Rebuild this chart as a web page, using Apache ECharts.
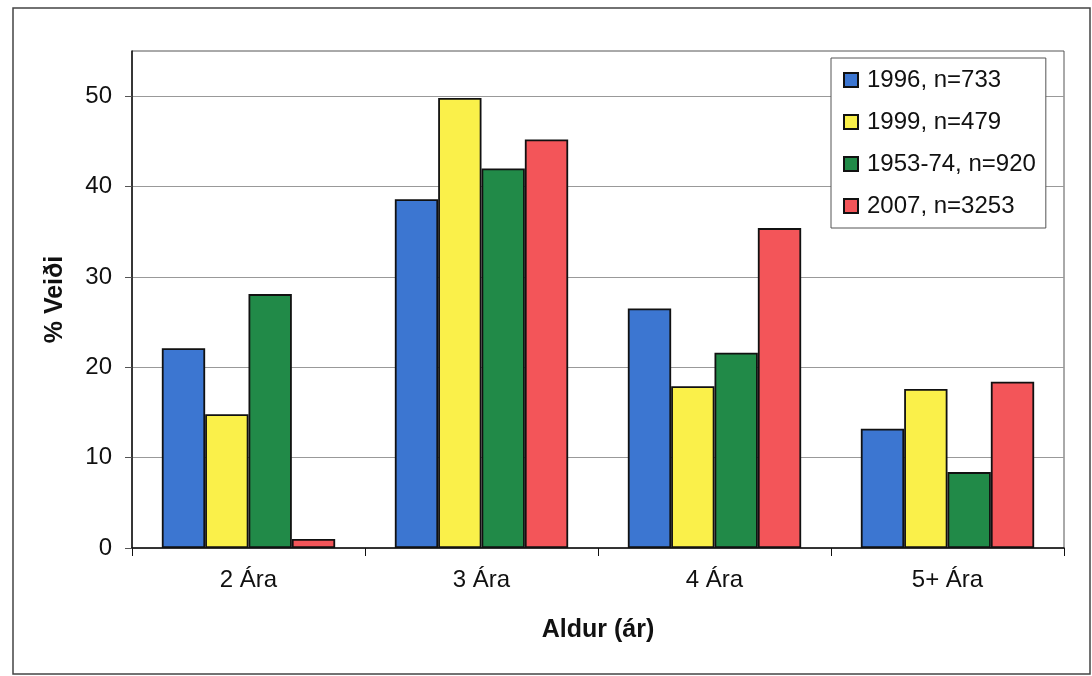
<!DOCTYPE html>
<html>
<head>
<meta charset="utf-8">
<script src="https://cdn.jsdelivr.net/npm/echarts@6/dist/echarts.min.js"></script>
<style>
html,body{margin:0;padding:0;background:#fff;}
#c{width:1092px;height:676px;}
</style>
</head>
<body>
<div id="c"></div>
<script>
var categories = ['2 Ára', '3 Ára', '4 Ára', '5+ Ára'];
var seriesNames = ['1996, n=733', '1999, n=479', '1953-74, n=920', '2007, n=3253'];
var s1996 = [22.1, 38.6, 26.5, 13.2];
var s1999 = [14.8, 49.8, 17.9, 17.6];
var s195374 = [28.1, 42.0, 21.6, 8.4];
var s2007 = [1.0, 45.2, 35.4, 18.4];
var yTicks = [0, 10, 20, 30, 40, 50];
var colors = ['#3C76D1', '#FAF04A', '#218A48', '#F35559'];

var values = [s1996, s1999, s195374, s2007];
var font = 'Liberation Sans, Arial, sans-serif';

var chart = echarts.init(document.getElementById('c'), null, {renderer: 'canvas'});
chart.setOption({
  animation: false,
  backgroundColor: '#fff',
  textStyle: {fontFamily: font, color: '#111'},
  graphic: [{
    type: 'rect',
    shape: {x: 13, y: 8, width: 1077, height: 666},
    style: {fill: 'none', stroke: '#444', lineWidth: 1.5},
    silent: true, z: -10
  }],
  grid: {
    left: 132, top: 51, right: 28, bottom: 128,
    show: true, borderColor: '#555', borderWidth: 1, backgroundColor: 'transparent'
  },
  legend: {
    orient: 'vertical',
    left: 831, top: 58,
    data: seriesNames,
    icon: 'rect',
    itemWidth: 14, itemHeight: 14,
    itemGap: 18,
    padding: [10, 10, 10, 12],
    borderColor: '#555', borderWidth: 1,
    backgroundColor: '#fff',
    textStyle: {fontFamily: font, fontSize: 24, color: '#111', padding: [0, 0, 0, 4]}
  },
  xAxis: {
    type: 'category',
    data: categories,
    name: 'Aldur (ár)',
    nameLocation: 'middle',
    nameGap: 70,
    nameTextStyle: {fontFamily: font, fontSize: 25, fontWeight: 'bold', color: '#111'},
    axisLine: {lineStyle: {color: '#111', width: 1.5}},
    axisTick: {show: true, length: 8, lineStyle: {color: '#111'}},
    axisLabel: {fontFamily: font, fontSize: 24, color: '#111', margin: 20},
    splitLine: {show: false}
  },
  yAxis: {
    type: 'value',
    min: 0, max: 55, interval: 10,
    name: '% Veiði',
    nameLocation: 'middle',
    nameRotate: 90,
    nameGap: 64,
    nameTextStyle: {fontFamily: font, fontSize: 25, fontWeight: 'bold', color: '#111'},
    axisLine: {show: true, lineStyle: {color: '#111', width: 1.5}},
    axisTick: {show: true, length: 7, customValues: yTicks, lineStyle: {color: '#555'}},
    axisLabel: {
      fontFamily: font, fontSize: 24, color: '#111', margin: 20,
      customValues: yTicks
    },
    splitLine: {show: true, lineStyle: {color: '#999', width: 1}}
  },
  series: seriesNames.map(function (n, i) {
    return {
      name: n,
      type: 'bar',
      data: values[i],
      barGap: '0%',
      barCategoryGap: '25.6%',
      itemStyle: {color: colors[i], borderColor: '#111', borderWidth: 1.8}
    };
  })
});
</script>
</body>
</html>
